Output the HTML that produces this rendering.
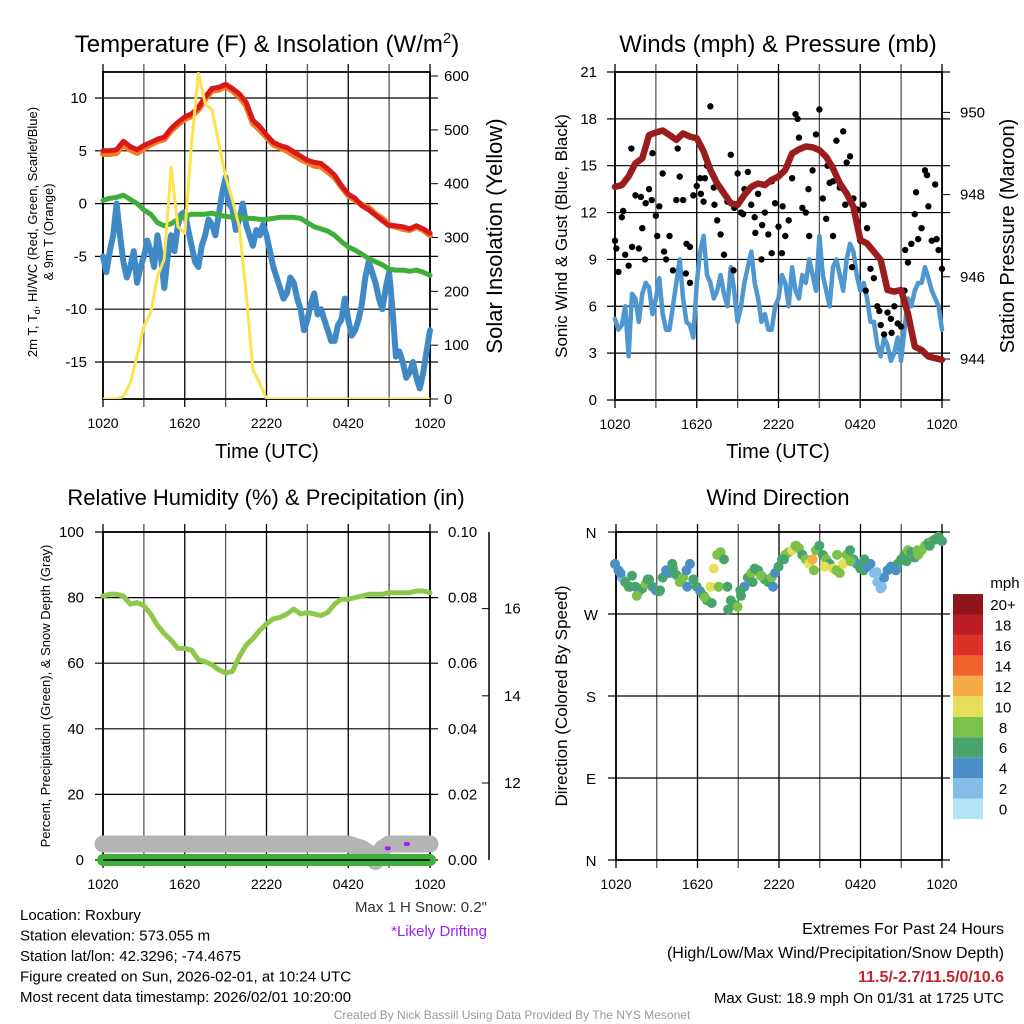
<!DOCTYPE html>
<html><head><meta charset="utf-8"><style>
html,body{margin:0;padding:0;background:#fff;}
svg{display:block;font-family:"Liberation Sans",sans-serif;}
</style></head><body>
<svg id="s" width="1024" height="1024" viewBox="0 0 1024 1024"></svg>
<script>
// ---------- DATA ----------
const timeLabels=["1020","1620","2220","0420","1020"];
// half-hour steps (49)
const tempRed=[5.0,5.0,5.1,5.9,5.4,5.1,5.5,5.8,6.1,6.3,7.1,7.7,8.2,8.5,9.1,10.1,10.9,11.0,11.3,10.9,10.4,9.6,7.9,7.3,6.5,5.8,5.5,5.3,4.9,4.5,4.1,3.9,3.8,3.3,2.7,1.7,0.9,0.5,-0.2,-0.6,-1.1,-1.6,-2.1,-2.1,-2.2,-2.4,-2.1,-2.4,-2.8];
const temp9m=[4.7,4.7,4.8,5.6,5.1,4.8,5.2,5.6,5.9,6.1,6.9,7.5,8.0,8.3,8.9,9.9,10.7,10.8,11.1,10.7,10.1,9.3,7.6,7.0,6.3,5.6,5.3,5.0,4.6,4.2,3.9,3.6,3.5,3.0,2.5,1.6,0.8,0.3,-0.1,-0.4,-1.0,-1.4,-2.0,-2.2,-2.4,-2.5,-2.2,-2.5,-3.0];
const dewGreen=[0.3,0.5,0.6,0.8,0.4,0.0,-0.6,-1.0,-1.8,-2.1,-1.9,-1.5,-1.2,-1.0,-1.0,-1.0,-0.9,-1.1,-1.2,-1.3,-1.3,-1.4,-1.4,-1.5,-1.5,-1.4,-1.3,-1.3,-1.3,-1.4,-1.8,-2.2,-2.4,-2.6,-3.0,-3.6,-4.1,-4.4,-4.8,-5.2,-5.5,-5.8,-6.2,-6.3,-6.3,-6.4,-6.3,-6.5,-6.8];
// quarter-hour steps (97)
const windChill=[-5,-6.5,-4.5,-3,0,-3,-5.5,-7,-6,-4.5,-7.5,-6,-5,-3.5,-4.5,-6,-3,-5,-8,-5,-3,-4.5,-2,-1,-0.8,-2.5,-4,-5.5,-6,-4,-3,-1.5,-2,-3,-1,1,2.5,0,-0.5,-2.5,-1.5,0,-2,-3,-4,-2.5,-3,-2,-3,-4.5,-6,-7,-8,-9,-8.5,-7,-7.5,-9,-10,-12,-11,-9.5,-8.5,-10.5,-10,-11,-12,-13,-13,-11.5,-11,-9,-11,-12.5,-12,-11,-9.5,-7,-5.5,-6.5,-7.5,-9,-10,-8,-6.5,-10,-14.5,-14,-15,-16.5,-16,-15,-16.5,-17.5,-16,-14,-12];
const solar=[0,0,0,5,30,80,135,160,228,260,430,320,308,475,605,549,537,475,413,370,320,197,54,30,0,0,0,0,0,0,0,0,0,0,0,0,0,0,0,0,0,0,0,0,0,0,0,0,0];
const windSpeed=[5.2,4.5,4.8,6,2.8,6.8,6.5,5,6.8,7.5,7.2,5.5,6.5,7.8,5.5,4.5,4.5,6,7.5,9,6.5,5,4.8,4,7.5,9.5,10.5,8,7.5,6.5,7.0,8,6.8,6,8.5,7,5.0,6,7.5,8.5,9.5,7.5,6.5,5,5.5,4.5,4.5,6,6.5,8,7.5,6,8.5,7,6.5,8,7.5,9,8.0,7,10.5,8,7.0,6,8.5,9,8.0,7,9.0,10,9.5,8,7.0,7.5,6.5,5,5.0,3.5,2.8,4,3.5,2.5,3.0,4,2.5,4.5,6.5,6,7.0,7.5,7.5,8.5,7.8,7,6.5,6,4.5];
const pressure=[948.19,948.23,948.44,948.76,948.88,949.45,949.51,949.56,949.45,949.33,949.49,949.41,949.37,949.05,948.6,948.27,948.03,947.79,947.75,947.99,948.19,948.27,948.23,948.36,948.44,948.6,949.0,949.1,949.17,949.15,949.08,948.92,948.64,948.27,948.03,947.7,946.9,946.81,946.61,946.41,945.68,945.64,945.68,945.11,944.3,944.22,944.06,944.02,943.98];
const gusts=[10.2,8.2,11.7,9.3,8.6,9.8,13.1,9.7,11.0,12.6,13.5,15.8,11.8,12.4,14.5,9.0,10.5,8.3,12.8,14.3,12.8,10.0,9.8,13.1,13.7,14.2,12.7,15.0,18.8,13.6,11.5,10.6,9.3,12.7,15.7,12.3,14.5,12.0,13.5,14.6,12.5,11.7,13.2,9.0,12.0,10.6,9.4,12.6,11.1,9.4,10.5,11.5,14.2,18.3,16.8,12.3,12.0,10.5,14.7,17.0,18.6,12.9,11.6,13.9,10.5,16.6,13.6,17.2,15.2,15.6,12.9,12.2,10.2,12.5,11.0,8.4,7.8,6.0,4.8,4.2,5.6,5.2,6.0,4.9,4.7,7.0,8.8,10.0,11.9,10.3,11.0,14.7,12.4,10.2,13.8,9.6,8.4];
const gustExtraHours=[0.1,0.6,1.2,1.9,2.2,2.7,3.1,3.6,4.6,5.2,5.5,6.3,6.6,7.3,8.7,9.4,10.3,10.8,11.5,12.3,13.4,14.2,15.6,16.0,16.9,17.4,18.4,19.4,20.3,21.3,22.1,22.9,23.6];
const gustExtraVals=[9.7,12.1,16.1,13.0,9.0,12.8,10.5,9.5,16.1,8.1,7.5,13.2,14.2,12.5,8.3,11.9,10.7,11.2,14.0,12.4,18.0,13.5,15.0,14.0,12.5,8.5,7.0,5.7,4.3,9.6,13.3,14.4,10.3];
const relHum=[80.5,81,81,80.5,78,78.5,77.5,75,71.5,69,67,64.5,64.5,64,61,60.5,59.5,58,57,57.5,62,65.5,67.5,70,72,73.5,74,75,76.5,75,75.5,75,74.5,75.5,78,79.5,79.5,80,80.5,81,81,81,81.5,81.5,81.5,81.5,82,82,81.5];
const snowDepth=[10.6,10.6,10.6,10.6,10.6,10.6,10.6,10.6,10.6,10.6,10.6,10.6,10.6,10.6,10.6,10.6,10.6,10.6,10.6,10.6,10.6,10.6,10.6,10.6,10.6,10.6,10.6,10.6,10.6,10.6,10.6,10.6,10.6,10.6,10.6,10.6,10.6,10.55,10.5,10.4,10.2,10.5,10.6,10.6,10.6,10.6,10.6,10.6,10.6];
const precip=[0,0,0,0,0,0,0,0,0,0,0,0,0,0,0,0,0,0,0,0,0,0,0,0,0,0,0,0,0,0,0,0,0,0,0,0,0,0,0,0,0,0,0,0,0,0,0,0,0];
const driftHours=[20.9,22.3];
const driftVals=[10.5,10.6];
const windDir=[325,318,310,305,300,312,300,295,298,303,308,300,296,295,310,318,315,320,313,305,310,318,325,308,300,295,290,285,300,320,335,338,330,300,285,280,278,290,300,310,315,320,318,312,308,305,310,315,322,330,335,338,340,345,342,335,330,325,330,340,345,335,330,325,320,318,315,325,335,340,330,325,320,318,322,325,315,305,298,310,318,322,320,325,330,335,340,338,332,335,340,345,348,350,352,355,350];
const dirSpeed=[5,5,3,6,7,7,7,5,7,8,6,7,5,6,7,5,5,6,7,9,8,5,4,6,7,5,6,7,10,10,8,9,6,7,7,6,8,6,5,7,8,6,7,5,6,7,8,5,6,7,8,9,10,9,8,7,8,10,13,9,7,6,8,7,10,9,8,10,8,7,6,5,6,7,5,4,3,2,3,4,4,5,4,6,7,6,8,7,7,8,9,8,7,8,6,7,7];
const dirExtraHours=[0.4,1.1,1.6,2.4,3.3,4.2,5.3,6.6,7.1,7.6,8.3,9.2,10.1,10.7,11.6,12.4,13.3,14.6,15.4,16.3,17.3,18.3,19.2,19.6,20.6,21.4,22.2,23.1,23.7];
const dirExtraVals=[315,300,290,308,296,325,300,288,282,300,275,296,305,312,300,330,345,318,322,335,328,330,316,300,318,328,340,345,352];
const dirExtraSpeed=[4,7,8,6,7,6,5,8,7,9,6,7,7,8,5,7,8,9,11,9,8,6,3,2,4,7,8,7,7];
const speedBins=["0","2","4","6","8","10","12","14","16","18","20+"];
const binColors=["#b5e4f7","#82bde6","#4a8fc6","#47a56c","#7cc14a","#e6df5a","#f6aa48","#f0622b","#dc3128","#bb1d24","#8e1519"];

// ---------- helpers ----------
const S=document.getElementById('s');const NS="http://www.w3.org/2000/svg";
function mk(tag,at,par){const e=document.createElementNS(NS,tag);for(const k in at)e.setAttribute(k,at[k]);(par||S).appendChild(e);return e;}
function txt(x,y,t,size,anchor,extra){const e=mk('text',Object.assign({x:x,y:y,'font-size':size,'text-anchor':anchor||'middle',fill:'#000'},extra||{}));e.textContent=t;return e;}
function pathFrom(xs,ys){let d="";for(let i=0;i<xs.length;i++)d+=(i?"L":"M")+xs[i].toFixed(1)+","+ys[i].toFixed(1);return d;}
const halfH=i=>i*0.5, qH=i=>i*0.25;

function frame(x0,x1,y0,y1,yTicks,yFn,name,labOff){
  const g=mk('g',{});
  
  
  for(let h=0;h<=24;h+=3){const x=x0+h*(x1-x0)/24;mk('line',{x1:x,x2:x,y1:y0-8,y2:y1+8,stroke:(h%6===0)?'#000':'#555','stroke-width':1.3},g);}
  yTicks.forEach(v=>{const y=yFn(v);mk('line',{x1:x0-8,x2:x1+8,y1:y,y2:y,stroke:'#000','stroke-width':1.2},g);});
  const r=mk('rect',{x:x0,y:y0,width:x1-x0,height:y1-y0,fill:'none',stroke:'#000','stroke-width':1.8});
  
  
  timeLabels.forEach((l,i)=>{const t=txt(x0+i*(x1-x0)/4,y1+labOff,l,14);
    
    });
}
function line(arr,xf,yf,tf,color,w,clip){return mk('path',{d:pathFrom(arr.map((_,i)=>xf(tf(i))),arr.map(yf)),fill:'none',stroke:color,'stroke-width':w,'stroke-linejoin':'round','stroke-linecap':'round','clip-path':clip?'url(#'+clip+')':'none'});}

// ---------- PANEL 1 ----------
const X1=h=>103+h*327/24, Y1=v=>203.6-v*10.56, YS=v=>399-v*0.5383;
frame(103,430,72,399,[10,5,0,-5,-10,-15],Y1,'temp-panel',29);
[10,5,0,-5,-10,-15].forEach(v=>{const t=txt(87,Y1(v)+5,String(v),15,'end');});
[0,100,200,300,400,500,600].forEach(v=>{mk('line',{x1:430,x2:438,y1:YS(v),y2:YS(v),stroke:'#000'});const t=txt(444,YS(v)+5,String(v),15,'start');});
const tt=txt(267,52,'Temperature (F) & Insolation (W/m',24);
const sup=mk('tspan',{dy:-9,'font-size':15},tt);sup.textContent='2';
const cl=mk('tspan',{dy:9},tt);cl.textContent=')';

let e=txt(267,458,'Time (UTC)',20);
e=txt(0,0,'Solar Insolation (Yellow)',22,'middle',{transform:'translate(502,236) rotate(-90)'});
e=txt(0,0,'2m T, T',13,'middle',{transform:'translate(37,232) rotate(-90)'});
const sb=mk('tspan',{dy:3,'font-size':9},e);sb.textContent='d';const rs=mk('tspan',{dy:-3},e);rs.textContent=', HI/WC (Red, Green, Scarlet/Blue)';

e=txt(0,0,'& 9m T (Orange)',13,'middle',{transform:'translate(53,232) rotate(-90)'});
const clip1=mk('clipPath',{id:'c1'});mk('rect',{x:103,y:72,width:327,height:327},clip1);
e=line(windChill,X1,Y1,qH,'#3f8ac6',6);
e=line(dewGreen,X1,Y1,halfH,'#3fae3a',5);
e=line(temp9m,X1,Y1,halfH,'#f47a22',6);
e=line(tempRed,X1,Y1,halfH,'#d7191c',5);
e=line(solar,X1,YS,halfH,'#fde24f',3,'c1');

// ---------- PANEL 2 ----------
const X2=h=>615+h*327/24, Y2=v=>400-v*15.62, YP=p=>359-(p-944)*41.1;
frame(615,942,72,400,[0,3,6,9,12,15,18,21],Y2,'wind-panel',29);
[0,3,6,9,12,15,18,21].forEach(v=>{const t=txt(597,Y2(v)+5,String(v),15,'end');});
[944,946,948,950].forEach(v=>{mk('line',{x1:942,x2:950,y1:YP(v),y2:YP(v),stroke:'#000'});const t=txt(960,YP(v)+5,String(v),15,'start');});
e=txt(778,52,'Winds (mph) & Pressure (mb)',24);
e=txt(778,458,'Time (UTC)',20);
e=txt(0,0,'Sonic Wind & Gust (Blue, Black)',17,'middle',{transform:'translate(567,236) rotate(-90)'});
e=txt(0,0,'Station Pressure (Maroon)',20,'middle',{transform:'translate(1014,236) rotate(-90)'});
e=line(windSpeed,X2,Y2,qH,'#4f97d0',4.5);
gusts.forEach((v,i)=>{const c=mk('circle',{cx:X2(qH(i)),cy:Y2(v),r:3.2,fill:'#000'});
  
  });
gustExtraHours.forEach((h,i)=>{const c=mk('circle',{cx:X2(h),cy:Y2(gustExtraVals[i]),r:3.2,fill:'#000'});
  
  });
e=line(pressure,X2,YP,halfH,'#9b1c1c',6.5);

// ---------- PANEL 3 ----------
const X3=X1, Y3=v=>860-v*3.28, YSn=v=>783-(v-12)*43.6, YPr=v=>860-v*3280;
frame(103,430,532,860,[0,20,40,60,80,100],Y3,'rh-panel',29);
[0,20,40,60,80,100].forEach(v=>{const t=txt(84,Y3(v)+5,String(v),15,'end');});
["0.00","0.02","0.04","0.06","0.08","0.10"].forEach((l,i)=>{const t=txt(448,Y3(i*20)+5,l,15,'start');});
e=mk('line',{x1:489,x2:489,y1:532,y2:860,stroke:'#000','stroke-width':1.5});
[12,14,16].forEach(v=>{mk('line',{x1:482,x2:489,y1:YSn(v),y2:YSn(v),stroke:'#000'});const t=txt(504,YSn(v)+5,String(v),15,'start');});
e=txt(266,505,'Relative Humidity (%) & Precipitation (in)',22);
e=txt(0,0,'Percent, Precipitation (Green), & Snow Depth (Gray)',13,'middle',{transform:'translate(50,696) rotate(-90)'});
e=line(snowDepth,X3,YSn,halfH,'#b4b4b4',17);
driftHours.forEach((h,i)=>{const r=mk('rect',{x:X3(h)-3,y:YSn(driftVals[i])-2,width:6,height:4,rx:2,fill:'#a020f0'});
  
  });
e=line(precip,X3,YPr,halfH,'#3fae3a',12);
mk('line',{x1:103,x2:430,y1:860,y2:860,stroke:'#000','stroke-width':1.5});
e=line(relHum,X3,Y3,halfH,'#8cc84b',5);

// ---------- PANEL 4 ----------
const X4=X2, Y4=d=>860-d*0.911;
frame(616,942,532,860,[0,90,180,270,360],Y4,'dir-panel',29);
["N","E","S","W","N"].forEach((l,i)=>{const t=txt(591,Y4(i*90)+6,l,15);});
e=txt(778,505,'Wind Direction',22);
e=txt(0,0,'Direction (Colored By Speed)',17,'middle',{transform:'translate(567,696) rotate(-90)'});
windDir.forEach((d,i)=>{const b=Math.min(10,Math.floor(dirSpeed[i]/2));const c=mk('circle',{cx:X4(qH(i)),cy:Y4(d),r:5,fill:binColors[b]});
  
  });
dirExtraHours.forEach((h,i)=>{const b=Math.min(10,Math.floor(dirExtraSpeed[i]/2));const c=mk('circle',{cx:X4(h),cy:Y4(dirExtraVals[i]),r:5,fill:binColors[b]});
  
  });
speedBins.forEach((l,i)=>{const y=819-(i+1)*20.45;const r=mk('rect',{x:953,y:y,width:30,height:20.45,fill:binColors[i]});
  
  
  const t=txt(1003,y+16,l,15);
  
  });
e=txt(1005,588,'mph',15);

// ---------- footer text ----------
const lines=["Location: Roxbury","Station elevation: 573.055 m","Station lat/lon: 42.3296; -74.4675","Figure created on Sun, 2026-02-01, at 10:24 UTC","Most recent data timestamp: 2026/02/01 10:20:00"];
lines.forEach((l,i)=>{const t=txt(20,920+i*20.5,l,15,'start');});
e=txt(487,912,'Max 1 H Snow: 0.2"',15,'end',{fill:'#333'});
e=txt(487,936,'*Likely Drifting',15,'end',{fill:'#a020f0'});
e=txt(1004,934,'Extremes For Past 24 Hours',16,'end');
e=txt(1004,958,'(High/Low/Max Wind/Precipitation/Snow Depth)',16,'end');
e=txt(1004,982,'11.5/-2.7/11.5/0/10.6',16,'end',{fill:'#c1272d','font-weight':'bold'});
e=txt(1004,1003,'Max Gust: 18.9 mph On 01/31 at 1725 UTC',15,'end');
e=txt(512,1019,'Created By Nick Bassill Using Data Provided By The NYS Mesonet',12,'middle',{fill:'#999'});
</script>
</body></html>
